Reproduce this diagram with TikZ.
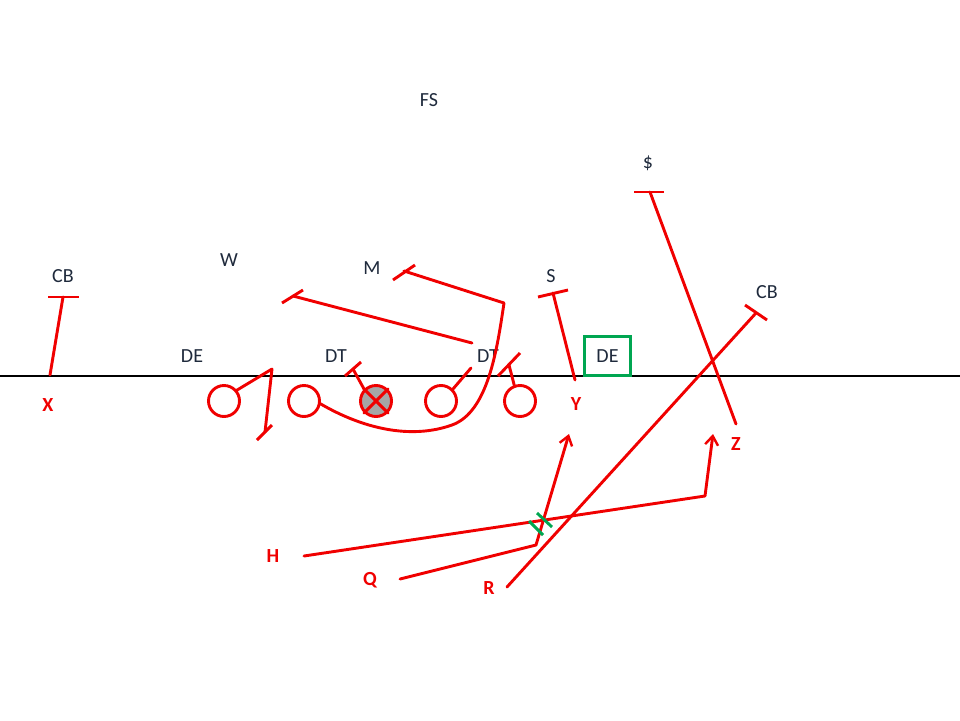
\documentclass[tikz,border=0pt]{standalone}
\usepackage{fontspec}
\setmainfont{Carlito}
\usetikzlibrary{arrows.meta}
\definecolor{rt}{HTML}{F00000}
\definecolor{navy}{HTML}{1F2A3C}
\definecolor{grn}{HTML}{00A651}
\definecolor{ctr}{HTML}{A6A6A6}
\begin{document}
\begin{tikzpicture}[x=1pt,y=-1pt,
  route/.style={draw=rt,line width=2.9pt,line cap=round,line join=round},
  arr/.style={route,-{Straight Barb[length=9pt,width=13pt,line width=2.4pt]}},
  tbar/.style={draw=rt,line width=2.9pt},
  defl/.style={text=navy,font=\fontsize{20}{22}\selectfont,inner sep=0pt},
  offl/.style={text=rt,font=\bfseries\fontsize{20}{22}\selectfont,inner sep=0pt},
  player/.style={circle,draw=rt,line width=2.9pt,minimum size=31pt,inner sep=0pt},
  gmark/.style={draw=grn,line width=2.9pt}]
\useasboundingbox (0,0) rectangle (960,720);
% line of scrimmage
\coordinate (losL) at (0,376);
\coordinate (losR) at (960,376);
\draw[line width=2.8pt,black] (losL) -- (losR);

% defense labels
\node[defl] (fs) at (429,100) {FS};
\node[defl] (dol) at (648,163) {\$};
\node[defl] (cbl) at (63,276) {CB};
\node[defl] (w) at (229,260) {W};
\node[defl] (m) at (372,268) {M};
\node[defl] (s) at (551,276) {S};
\node[defl] (cbr) at (767,292) {CB};
\node[defl] (del) at (192,356) {DE};
\node[defl] (dtl) at (336,356) {DT};
\node[defl] (dtr) at (488,356) {DT};
\node[defl,draw=grn,line width=2.6pt,minimum width=46pt,minimum height=39pt] (der) at (607.5,356) {DE};

% offensive line
\node[player] (p1) at (224,401) {};
\node[player] (p2) at (304,401) {};
\node[player,fill=ctr] (c) at (376,401) {};
\node[player] (p4) at (441,401) {};
\node[player] (p5) at (520,401) {};
\draw[route] (c.45) -- (c.225);
\draw[route] (c.135) -- (c.-45);

% offensive labels
\node[offl] (x) at (48,405) {X};
\node[offl] (y) at (576,404) {Y};
\node[offl] (z) at (736,444) {Z};
\node[offl] (h) at (273,556) {H};
\node[offl] (q) at (370,580) {Q};
\node[offl] (r) at (489,588) {R};

% X route
\coordinate (x0) at (50,375);
\coordinate (x1) at (63,297);
\coordinate (x1a) at (48,297);
\coordinate (x1b) at (79,297);
\draw[route] (x0) -- (x1);
\draw[tbar] (x1a) -- (x1b);

% Y route
\coordinate (y0) at (575,380);
\coordinate (y1) at (553,293);
\coordinate (y1a) at (538,297);
\coordinate (y1b) at (568,290);
\draw[route] (y0) -- (y1);
\draw[tbar] (y1a) -- (y1b);

% Z vs $
\coordinate (z0) at (736,424);
\coordinate (z1) at (650,192);
\coordinate (z1a) at (634,192);
\coordinate (z1b) at (664,192);
\draw[route] (z0) -- (z1);
\draw[tbar] (z1a) -- (z1b);

% R route to CB
\coordinate (r0) at (507,587);
\coordinate (r1) at (756,313);
\coordinate (r1a) at (745,305);
\coordinate (r1b) at (767,320);
\draw[route] (r0) -- (r1);
\draw[tbar] (r1a) -- (r1b);

% H route
\coordinate (h0) at (304,556);
\coordinate (h1) at (705,496);
\coordinate (h2) at (713,434);
\draw[arr] (h0) -- (h1) -- (h2);

% Q route
\coordinate (q0) at (400,579);
\coordinate (q1) at (536,545);
\coordinate (q2) at (569,434);
\draw[arr] (q0) -- (q1) -- (q2);

% green marks
\coordinate (g1a) at (529,521);
\coordinate (g1b) at (543,535);
\coordinate (g2a) at (537,513);
\coordinate (g2b) at (552,527);
\draw[gmark] (g1a) -- (g1b);
\draw[gmark] (g2a) -- (g2b);

% left DE block
\coordinate (d1) at (272,369);
\coordinate (d2) at (265,432);
\coordinate (d2a) at (257,440);
\coordinate (d2b) at (272,425);
\draw[route] (p1.40) -- (d1) -- (d2);
\draw[tbar] (d2a) -- (d2b);

% center block on DT
\coordinate (cb1) at (353,369);
\coordinate (cb1a) at (345,376);
\coordinate (cb1b) at (361,362);
\draw[route] (c.135) -- (cb1);
\draw[tbar] (cb1a) -- (cb1b);

% right guard
\coordinate (rg1) at (471,368);
\draw[route] (p4.45) -- (rg1);

% right tackle
\coordinate (rt1) at (509,365);
\coordinate (rt1a) at (498,376);
\coordinate (rt1b) at (520,353);
\draw[route] (p5.110) -- (rt1);
\draw[tbar] (rt1a) -- (rt1b);

% pulling guard to M
\coordinate (pg1) at (504,303);
\coordinate (pg2) at (404,271);
\coordinate (pg2a) at (393,280);
\coordinate (pg2b) at (415,265);
\draw[route] (p2.-10) .. controls (362,428) and (410,440) .. (452,425)
  .. controls (488,412) and (497,350) .. (pg1) -- (pg2);
\draw[tbar] (pg2a) -- (pg2b);

% DT to W
\coordinate (dw0) at (472,343);
\coordinate (dw1) at (293,296);
\coordinate (dw1a) at (282,303);
\coordinate (dw1b) at (303,290);
\draw[route] (dw0) -- (dw1);
\draw[tbar] (dw1a) -- (dw1b);
\end{tikzpicture}
\end{document}
